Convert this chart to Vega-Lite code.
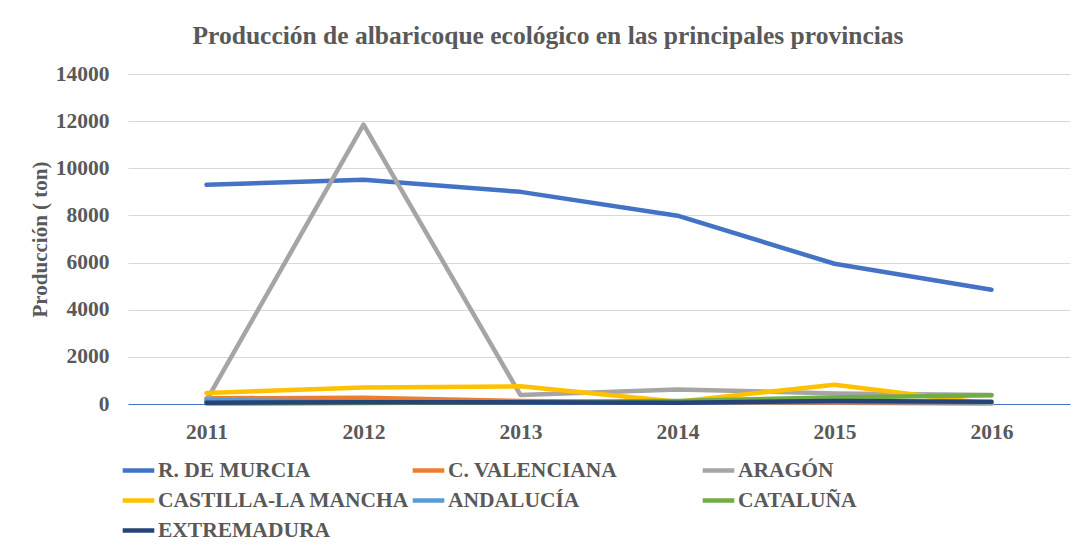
{
  "$schema": "https://vega.github.io/schema/vega-lite/v6.json",
  "autosize": "none",
  "width": 942,
  "height": 330,
  "padding": {"left": 128, "top": 74, "right": 5, "bottom": 146},
  "background": "white",
  "title": {
    "text": "Producción de albaricoque ecológico en las principales provincias",
    "font": "Liberation Serif",
    "fontSize": 25.5,
    "fontWeight": "bold",
    "color": "#595959",
    "anchor": "middle",
    "frame": "group",
    "dx": -51,
    "offset": 14
  },
  "data": {
    "values": [
      {"provincia": "R. DE MURCIA", "año": "2011", "ton": 9300},
      {"provincia": "R. DE MURCIA", "año": "2012", "ton": 9510},
      {"provincia": "R. DE MURCIA", "año": "2013", "ton": 9000},
      {"provincia": "R. DE MURCIA", "año": "2014", "ton": 7990},
      {"provincia": "R. DE MURCIA", "año": "2015", "ton": 5950},
      {"provincia": "R. DE MURCIA", "año": "2016", "ton": 4850},
      {"provincia": "C. VALENCIANA", "año": "2011", "ton": 240},
      {"provincia": "C. VALENCIANA", "año": "2012", "ton": 270},
      {"provincia": "C. VALENCIANA", "año": "2013", "ton": 130},
      {"provincia": "C. VALENCIANA", "año": "2014", "ton": 60},
      {"provincia": "C. VALENCIANA", "año": "2015", "ton": 50},
      {"provincia": "C. VALENCIANA", "año": "2016", "ton": 20},
      {"provincia": "ARAGÓN", "año": "2011", "ton": 150},
      {"provincia": "ARAGÓN", "año": "2012", "ton": 11850},
      {"provincia": "ARAGÓN", "año": "2013", "ton": 380},
      {"provincia": "ARAGÓN", "año": "2014", "ton": 620},
      {"provincia": "ARAGÓN", "año": "2015", "ton": 450},
      {"provincia": "ARAGÓN", "año": "2016", "ton": 380},
      {"provincia": "CASTILLA-LA MANCHA", "año": "2011", "ton": 465},
      {"provincia": "CASTILLA-LA MANCHA", "año": "2012", "ton": 700},
      {"provincia": "CASTILLA-LA MANCHA", "año": "2013", "ton": 750},
      {"provincia": "CASTILLA-LA MANCHA", "año": "2014", "ton": 100},
      {"provincia": "CASTILLA-LA MANCHA", "año": "2015", "ton": 820},
      {"provincia": "CASTILLA-LA MANCHA", "año": "2016", "ton": 0},
      {"provincia": "ANDALUCÍA", "año": "2011", "ton": 170},
      {"provincia": "ANDALUCÍA", "año": "2012", "ton": 100},
      {"provincia": "ANDALUCÍA", "año": "2013", "ton": 80},
      {"provincia": "ANDALUCÍA", "año": "2014", "ton": 60},
      {"provincia": "ANDALUCÍA", "año": "2015", "ton": 80},
      {"provincia": "ANDALUCÍA", "año": "2016", "ton": 60},
      {"provincia": "CATALUÑA", "año": "2011", "ton": 20},
      {"provincia": "CATALUÑA", "año": "2012", "ton": 40},
      {"provincia": "CATALUÑA", "año": "2013", "ton": 80},
      {"provincia": "CATALUÑA", "año": "2014", "ton": 130},
      {"provincia": "CATALUÑA", "año": "2015", "ton": 280},
      {"provincia": "CATALUÑA", "año": "2016", "ton": 370},
      {"provincia": "EXTREMADURA", "año": "2011", "ton": 55},
      {"provincia": "EXTREMADURA", "año": "2012", "ton": 70},
      {"provincia": "EXTREMADURA", "año": "2013", "ton": 70},
      {"provincia": "EXTREMADURA", "año": "2014", "ton": 55},
      {"provincia": "EXTREMADURA", "año": "2015", "ton": 130},
      {"provincia": "EXTREMADURA", "año": "2016", "ton": 100}
    ]
  },
  "mark": {"type": "line", "strokeWidth": 4.5, "strokeCap": "round", "strokeJoin": "round"},
  "encoding": {
    "x": {
      "field": "año",
      "type": "ordinal",
      "scale": {"type": "point", "padding": 0.5},
      "axis": {
        "title": null,
        "labelAngle": 0,
        "ticks": false,
        "grid": false,
        "domainColor": "#4472C4",
        "domainWidth": 1,
        "labelPadding": 17,
        "labelFont": "Liberation Serif",
        "labelFontSize": 21.5,
        "labelFontWeight": "bold",
        "labelColor": "#595959"
      }
    },
    "y": {
      "field": "ton",
      "type": "quantitative",
      "scale": {"domain": [0, 14000], "nice": false},
      "axis": {
        "title": "Producción ( ton)",
        "values": [0, 2000, 4000, 6000, 8000, 10000, 12000, 14000],
        "format": "d",
        "domain": false,
        "ticks": false,
        "grid": true,
        "gridColor": "#D9D9D9",
        "gridWidth": 1,
        "labelPadding": 19,
        "labelFont": "Liberation Serif",
        "labelFontSize": 21.5,
        "labelFontWeight": "bold",
        "labelColor": "#595959",
        "titleFont": "Liberation Serif",
        "titleFontSize": 21,
        "titleFontWeight": "bold",
        "titleColor": "#595959",
        "titlePadding": 5
      }
    },
    "color": {
      "field": "provincia",
      "type": "nominal",
      "sort": null,
      "scale": {
        "domain": ["R. DE MURCIA", "C. VALENCIANA", "ARAGÓN", "CASTILLA-LA MANCHA", "ANDALUCÍA", "CATALUÑA", "EXTREMADURA"],
        "range": ["#4472C4", "#ED7D31", "#A5A5A5", "#FFC000", "#5B9BD5", "#70AD47", "#264478"]
      },
      "legend": {
        "title": null,
        "orient": "none",
        "legendX": -8,
        "legendY": 378,
        "direction": "horizontal",
        "columns": 3,
        "gridAlign": "all",
        "columnPadding": -12,
        "rowPadding": 1,
        "padding": 0,
        "symbolType": "stroke",
        "symbolSize": 1000,
        "symbolStrokeWidth": 4.5,
        "labelOffset": 1,
        "labelFont": "Liberation Serif",
        "labelFontSize": 21.5,
        "labelFontWeight": "bold",
        "labelColor": "#595959",
        "labelLimit": 400
      }
    }
  },
  "config": {"view": {"stroke": null}}
}
